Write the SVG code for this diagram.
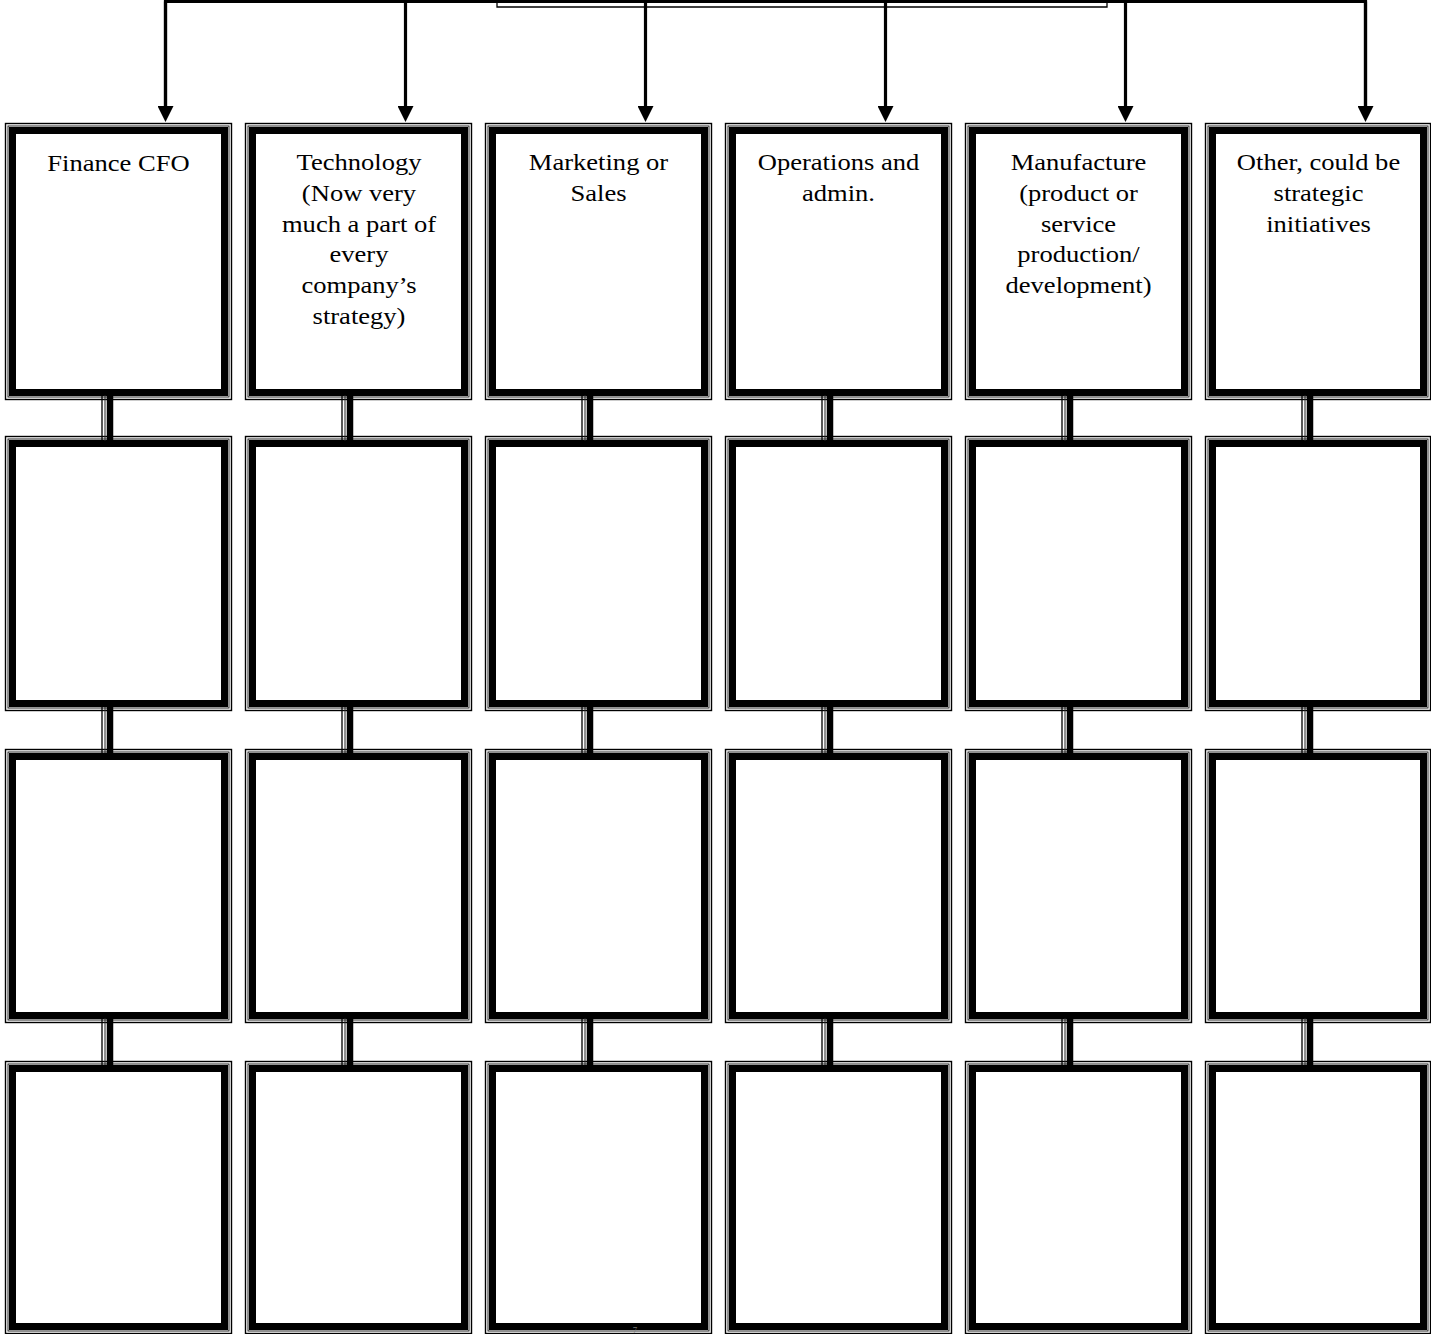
<svg xmlns="http://www.w3.org/2000/svg" width="1431" height="1334" viewBox="0 0 1431 1334">
<style>
.o{fill:#fff;stroke:#000;stroke-width:1.4}
.m{fill:none;stroke:#222;stroke-width:1}
.k{fill:none;stroke:#000;stroke-width:7}
.t{font-family:"Liberation Serif","Times New Roman",serif;font-size:23px;fill:#000;text-anchor:middle}
.a{stroke:#000;stroke-width:3.2;fill:none}
.c1{stroke:#000;stroke-width:1.3}
.c2{stroke:#222;stroke-width:1}
.c3{stroke:#000;stroke-width:6.5}
</style>
<defs>
<marker id="arr" viewBox="0 0 16 16" markerWidth="16" markerHeight="16" refX="0" refY="8" orient="auto" markerUnits="userSpaceOnUse">
<path d="M0,0 L16,8 L0,16 z" fill="#000"/>
</marker>
</defs>
<rect width="1431" height="1334" fill="#fff"/>
<g id="parent">
<path d="M497,0 V7 H1107 V0" fill="none" stroke="#000" stroke-width="1.3"/>
</g>
<g id="connectors">
<path class="a" d="M165.5,106 V1.5 H1365.5 V106"/>
<line class="a" x1="165.5" y1="1.5" x2="165.5" y2="106" marker-end="url(#arr)"/>
<line class="a" x1="405.5" y1="1.5" x2="405.5" y2="106" marker-end="url(#arr)"/>
<line class="a" x1="645.5" y1="1.5" x2="645.5" y2="106" marker-end="url(#arr)"/>
<line class="a" x1="885.5" y1="1.5" x2="885.5" y2="106" marker-end="url(#arr)"/>
<line class="a" x1="1125.5" y1="1.5" x2="1125.5" y2="106" marker-end="url(#arr)"/>
<line class="a" x1="1365.5" y1="1.5" x2="1365.5" y2="106" marker-end="url(#arr)"/>
</g>
<g id="nodes">
<g id="n11"><rect class="o" x="5.5" y="123.5" width="226" height="276"/><rect class="m" x="8" y="126" width="221" height="271"/><rect class="k" x="12.5" y="130.5" width="212" height="262"/></g>
<g id="n12"><rect class="o" x="245.5" y="123.5" width="226" height="276"/><rect class="m" x="248" y="126" width="221" height="271"/><rect class="k" x="252.5" y="130.5" width="212" height="262"/></g>
<g id="n13"><rect class="o" x="485.5" y="123.5" width="226" height="276"/><rect class="m" x="488" y="126" width="221" height="271"/><rect class="k" x="492.5" y="130.5" width="212" height="262"/></g>
<g id="n14"><rect class="o" x="725.5" y="123.5" width="226" height="276"/><rect class="m" x="728" y="126" width="221" height="271"/><rect class="k" x="732.5" y="130.5" width="212" height="262"/></g>
<g id="n15"><rect class="o" x="965.5" y="123.5" width="226" height="276"/><rect class="m" x="968" y="126" width="221" height="271"/><rect class="k" x="972.5" y="130.5" width="212" height="262"/></g>
<g id="n16"><rect class="o" x="1205.5" y="123.5" width="225" height="276"/><rect class="m" x="1208" y="126" width="220" height="271"/><rect class="k" x="1212.5" y="130.5" width="211" height="262"/></g>

<g id="n21"><rect class="o" x="5.5" y="436.5" width="226" height="274"/><rect class="m" x="8" y="439" width="221" height="269"/><rect class="k" x="12.5" y="443.5" width="212" height="260"/></g>
<g id="n22"><rect class="o" x="245.5" y="436.5" width="226" height="274"/><rect class="m" x="248" y="439" width="221" height="269"/><rect class="k" x="252.5" y="443.5" width="212" height="260"/></g>
<g id="n23"><rect class="o" x="485.5" y="436.5" width="226" height="274"/><rect class="m" x="488" y="439" width="221" height="269"/><rect class="k" x="492.5" y="443.5" width="212" height="260"/></g>
<g id="n24"><rect class="o" x="725.5" y="436.5" width="226" height="274"/><rect class="m" x="728" y="439" width="221" height="269"/><rect class="k" x="732.5" y="443.5" width="212" height="260"/></g>
<g id="n25"><rect class="o" x="965.5" y="436.5" width="226" height="274"/><rect class="m" x="968" y="439" width="221" height="269"/><rect class="k" x="972.5" y="443.5" width="212" height="260"/></g>
<g id="n26"><rect class="o" x="1205.5" y="436.5" width="225" height="274"/><rect class="m" x="1208" y="439" width="220" height="269"/><rect class="k" x="1212.5" y="443.5" width="211" height="260"/></g>

<g id="n31"><rect class="o" x="5.5" y="749.5" width="226" height="273"/><rect class="m" x="8" y="752" width="221" height="268"/><rect class="k" x="12.5" y="756.5" width="212" height="259"/></g>
<g id="n32"><rect class="o" x="245.5" y="749.5" width="226" height="273"/><rect class="m" x="248" y="752" width="221" height="268"/><rect class="k" x="252.5" y="756.5" width="212" height="259"/></g>
<g id="n33"><rect class="o" x="485.5" y="749.5" width="226" height="273"/><rect class="m" x="488" y="752" width="221" height="268"/><rect class="k" x="492.5" y="756.5" width="212" height="259"/></g>
<g id="n34"><rect class="o" x="725.5" y="749.5" width="226" height="273"/><rect class="m" x="728" y="752" width="221" height="268"/><rect class="k" x="732.5" y="756.5" width="212" height="259"/></g>
<g id="n35"><rect class="o" x="965.5" y="749.5" width="226" height="273"/><rect class="m" x="968" y="752" width="221" height="268"/><rect class="k" x="972.5" y="756.5" width="212" height="259"/></g>
<g id="n36"><rect class="o" x="1205.5" y="749.5" width="225" height="273"/><rect class="m" x="1208" y="752" width="220" height="268"/><rect class="k" x="1212.5" y="756.5" width="211" height="259"/></g>

<g id="n41"><rect class="o" x="5.5" y="1061.5" width="226" height="272"/><rect class="m" x="8" y="1064" width="221" height="267"/><rect class="k" x="12.5" y="1068.5" width="212" height="258"/></g>
<g id="n42"><rect class="o" x="245.5" y="1061.5" width="226" height="272"/><rect class="m" x="248" y="1064" width="221" height="267"/><rect class="k" x="252.5" y="1068.5" width="212" height="258"/></g>
<g id="n43"><rect class="o" x="485.5" y="1061.5" width="226" height="272"/><rect class="m" x="488" y="1064" width="221" height="267"/><rect class="k" x="492.5" y="1068.5" width="212" height="258"/></g>
<g id="n44"><rect class="o" x="725.5" y="1061.5" width="226" height="272"/><rect class="m" x="728" y="1064" width="221" height="267"/><rect class="k" x="732.5" y="1068.5" width="212" height="258"/></g>
<g id="n45"><rect class="o" x="965.5" y="1061.5" width="226" height="272"/><rect class="m" x="968" y="1064" width="221" height="267"/><rect class="k" x="972.5" y="1068.5" width="212" height="258"/></g>
<g id="n46"><rect class="o" x="1205.5" y="1061.5" width="225" height="272"/><rect class="m" x="1208" y="1064" width="220" height="267"/><rect class="k" x="1212.5" y="1068.5" width="211" height="258"/></g>
</g>
<g id="links">
<g id="col1links">
<path class="c1" d="M102,395 V441 M102,707 V753 M102,1018 V1065"/>
<path class="c2" d="M105,395 V441 M105,707 V753 M105,1018 V1065"/>
<path class="c3" d="M110,389 V447 M110,700 V760 M110,1012 V1072"/>
</g>
<g id="col2links">
<path class="c1" d="M342,395 V441 M342,707 V753 M342,1018 V1065"/>
<path class="c2" d="M345,395 V441 M345,707 V753 M345,1018 V1065"/>
<path class="c3" d="M350,389 V447 M350,700 V760 M350,1012 V1072"/>
</g>
<g id="col3links">
<path class="c1" d="M582,395 V441 M582,707 V753 M582,1018 V1065"/>
<path class="c2" d="M585,395 V441 M585,707 V753 M585,1018 V1065"/>
<path class="c3" d="M590,389 V447 M590,700 V760 M590,1012 V1072"/>
</g>
<g id="col4links">
<path class="c1" d="M822,395 V441 M822,707 V753 M822,1018 V1065"/>
<path class="c2" d="M825,395 V441 M825,707 V753 M825,1018 V1065"/>
<path class="c3" d="M830,389 V447 M830,700 V760 M830,1012 V1072"/>
</g>
<g id="col5links">
<path class="c1" d="M1062,395 V441 M1062,707 V753 M1062,1018 V1065"/>
<path class="c2" d="M1065,395 V441 M1065,707 V753 M1065,1018 V1065"/>
<path class="c3" d="M1070,389 V447 M1070,700 V760 M1070,1012 V1072"/>
</g>
<g id="col6links">
<path class="c1" d="M1302,395 V441 M1302,707 V753 M1302,1018 V1065"/>
<path class="c2" d="M1305,395 V441 M1305,707 V753 M1305,1018 V1065"/>
<path class="c3" d="M1310,389 V447 M1310,700 V760 M1310,1012 V1072"/>
</g>
</g>
<g id="labels">
<text class="t" transform="translate(118.5 0) scale(1.155 1)" y="171"><tspan x="0">Finance CFO</tspan></text>
<text class="t" transform="translate(359 0) scale(1.155 1)" y="170"><tspan x="0">Technology</tspan><tspan x="0" dy="30.8">(Now very</tspan><tspan x="0" dy="30.8">much a part of</tspan><tspan x="0" dy="30.8">every</tspan><tspan x="0" dy="30.8">company’s</tspan><tspan x="0" dy="30.8">strategy)</tspan></text>
<text class="t" transform="translate(598.5 0) scale(1.155 1)" y="170"><tspan x="0">Marketing or</tspan><tspan x="0" dy="30.8">Sales</tspan></text>
<text class="t" transform="translate(838.5 0) scale(1.155 1)" y="170"><tspan x="0">Operations and</tspan><tspan x="0" dy="30.8">admin.</tspan></text>
<text class="t" transform="translate(1078.5 0) scale(1.155 1)" y="170"><tspan x="0">Manufacture</tspan><tspan x="0" dy="30.8">(product or</tspan><tspan x="0" dy="30.8">service</tspan><tspan x="0" dy="30.8">production/</tspan><tspan x="0" dy="30.8">development)</tspan></text>
<text class="t" transform="translate(1318.5 0) scale(1.155 1)" y="170"><tspan x="0">Other, could be</tspan><tspan x="0" dy="30.8">strategic</tspan><tspan x="0" dy="30.8">initiatives</tspan></text>
<text class="t" x="635" y="1333" style="fill:#777;font-size:9px">7</text>
</g>
</svg>
